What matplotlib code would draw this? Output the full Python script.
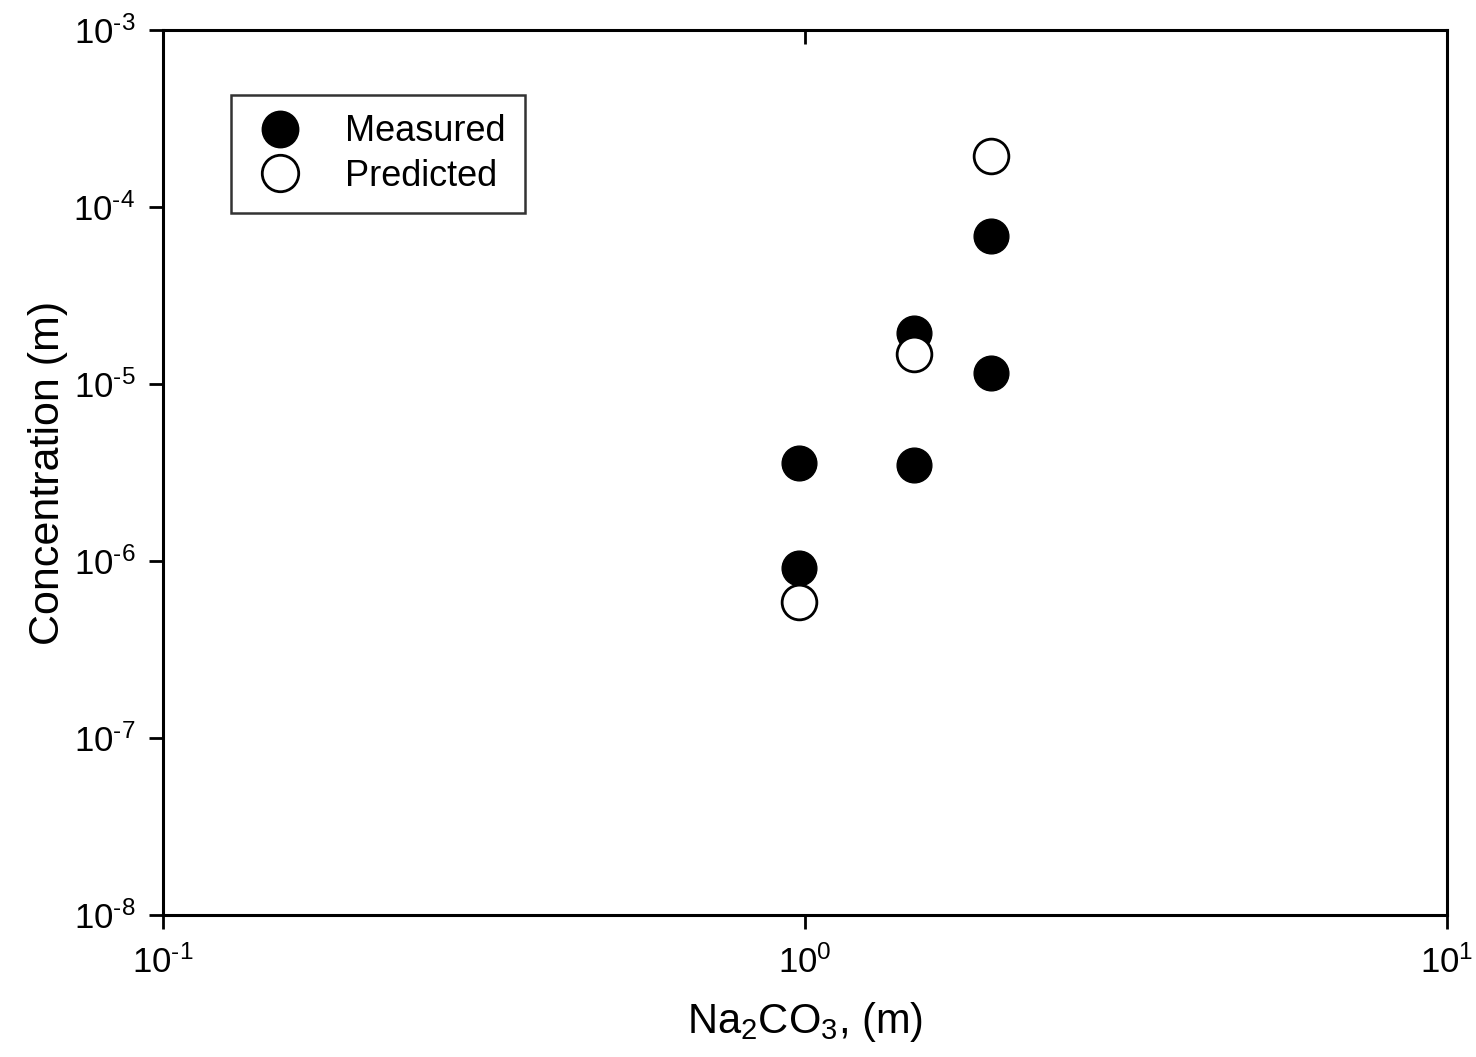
import matplotlib
matplotlib.use('Agg')
import matplotlib.pyplot as plt
import numpy as np

plt.rcParams['font.family'] = ['Liberation Sans', 'DejaVu Sans']
plt.rcParams['mathtext.fontset'] = 'custom'
plt.rcParams['mathtext.rm'] = 'Liberation Sans'
plt.rcParams['mathtext.it'] = 'Liberation Sans:italic'
plt.rcParams['mathtext.bf'] = 'Liberation Sans:bold'

# Na2CO3 molality and concentrations
meas_x = [0.98, 0.98, 1.48, 1.48, 1.95, 1.95]
meas_y = [3.6e-6, 9.1e-7, 1.94e-5, 3.5e-6, 6.9e-5, 1.16e-5]
pred_x = [0.98, 1.48, 1.95]
pred_y = [5.9e-7, 1.48e-5, 1.94e-4]

xticks = [0.1, 1, 10]
xticklabels = ['$10^{\\text{-1}}$', '$10^{0}$', '$10^{1}$']
yticks = [1e-8, 1e-7, 1e-6, 1e-5, 1e-4, 1e-3]
yticklabels = ['$10^{\\text{-%d}}$' % k for k in [8, 7, 6, 5, 4, 3]]

fig = plt.figure(figsize=(14.76, 10.57), dpi=100)
ax = fig.add_axes([0.1104, 0.1343, 0.8700, 0.8373])

ax.plot(meas_x, meas_y, 'o', color='black', markersize=25, label='Measured')
ax.plot(pred_x, pred_y, 'o', markerfacecolor='white', markeredgecolor='black',
        markeredgewidth=2, markersize=25, label='Predicted')

ax.set_xscale('log')
ax.set_yscale('log')
ax.set_xlim(0.1, 10)
ax.set_ylim(1e-8, 1e-3)

ax.set_xticks(xticks)
ax.set_xticklabels(xticklabels)
ax.set_yticks(yticks)
ax.set_yticklabels(yticklabels)
ax.minorticks_off()
ax.tick_params(axis='both', which='major', direction='out', length=10, width=2,
               labelsize=25)
ax.tick_params(axis='x', pad=12)
ax.tick_params(axis='y', pad=10)

# top spine has inward ticks
sec = ax.secondary_xaxis('top')
sec.set_xticks([1])
sec.set_xticklabels([])
sec.tick_params(direction='in', length=10, width=2)
sec.minorticks_off()
sec.spines['top'].set_visible(False)

for s in ax.spines.values():
    s.set_linewidth(2.2)

ax.set_xlabel('Na$_2$CO$_3$, (m)', fontsize=30, labelpad=14)
ax.set_ylabel('Concentration (m)', fontsize=31, labelpad=4)

leg = ax.legend(loc='upper left', bbox_to_anchor=(0.053, 0.927), borderaxespad=0,
                fontsize=26, frameon=True, fancybox=False, edgecolor='black',
                handletextpad=1.0, borderpad=0.55, labelspacing=0.25,
                handlelength=1.6, markerscale=1.05)
leg.get_frame().set_linewidth(1.8)

fig.savefig('out.png', dpi=100)
